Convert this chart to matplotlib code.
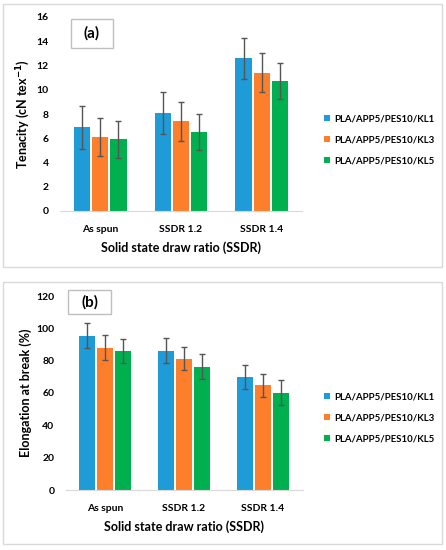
import matplotlib
matplotlib.use("Agg")
import matplotlib.pyplot as plt
from matplotlib.patches import Rectangle
import numpy as np

categories = ["As spun", "SSDR 1.2", "SSDR 1.4"]
series = ["PLA/APP5/PES10/KL1", "PLA/APP5/PES10/KL3", "PLA/APP5/PES10/KL5"]
colors = ["#1f9bd8", "#fd7f2c", "#00b04f"]

ten_kl1 = [6.9, 8.1, 12.6]
ten_kl3 = [6.1, 7.4, 11.4]
ten_kl5 = [5.9, 6.5, 10.7]
ten_err_kl1 = [1.75, 1.75, 1.7]
ten_err_kl3 = [1.6, 1.6, 1.6]
ten_err_kl5 = [1.5, 1.5, 1.5]

elo_kl1 = [95.3, 86.2, 69.8]
elo_kl3 = [88.1, 81.3, 64.8]
elo_kl5 = [86.0, 76.3, 60.1]
elo_err_kl1 = [7.7, 7.6, 7.3]
elo_err_kl3 = [7.5, 6.9, 7.1]
elo_err_kl5 = [7.6, 7.6, 7.7]

ten_ticks = [0, 2, 4, 6, 8, 10, 12, 14, 16]
elo_ticks = [0, 20, 40, 60, 80, 100, 120]

plt.rcParams['font.family'] = ['Lato', 'DejaVu Sans']
plt.rcParams['font.weight'] = 'bold'
plt.rcParams['mathtext.default'] = 'bf'

fig = plt.figure(figsize=(4.46, 5.5), dpi=100)
W, H = 446, 550

def fx(px):
    return px / W

def fy(py):
    return 1 - py / H

# frames
for (x0, y0, x1, y1) in [(3, 4, 442, 267), (3, 282, 442, 544)]:
    fig.patches.append(Rectangle((fx(x0), fy(y1)), fx(x1) - fx(x0), fy(y0) - fy(y1),
                                 transform=fig.transFigure, fill=False,
                                 edgecolor="#d9d9d9", linewidth=1.0))

def panel(rect, vals, errs, ticks, ylabel, tag, tagbox, leg_y):
    ax = fig.add_axes(rect)
    x = np.arange(len(categories))
    w = 0.2
    off = 0.225
    for i in range(3):
        ax.bar(x + (i - 1) * off, vals[i], width=w, color=colors[i],
               yerr=errs[i], capsize=2.5,
               error_kw=dict(ecolor="#555555", elinewidth=1.0, capthick=1.0),
               label=series[i], zorder=2)
    ax.set_xlim(-0.5, 2.5)
    ax.set_ylim(ticks[0], ticks[-1])
    ax.set_yticks(ticks)
    ax.set_yticklabels([str(t) for t in ticks], fontsize=7.5, fontweight='bold')
    ax.set_xticks(x)
    ax.set_xticklabels(categories, fontsize=7.5, fontweight='bold')
    ax.tick_params(axis='y', length=0, pad=8)
    ax.tick_params(axis='x', length=0, pad=10)
    for s in ["top", "right", "left"]:
        ax.spines[s].set_visible(False)
    ax.spines["bottom"].set_color("#d9d9d9")
    ax.set_ylabel(ylabel, fontsize=9, fontweight='bold', labelpad=3)
    ax.set_xlabel("Solid state draw ratio (SSDR)", fontsize=9, fontweight='bold', labelpad=5)
    # tag box
    bx0, by0, bx1, by1 = tagbox
    fig.patches.append(Rectangle((fx(bx0), fy(by1)), fx(bx1) - fx(bx0), fy(by0) - fy(by1),
                                 transform=fig.transFigure, fill=False,
                                 edgecolor="#bfbfbf", linewidth=1.0))
    fig.text(fx((bx0 + bx1) / 2), fy((by0 + by1) / 2), tag, ha='center', va='center',
             fontsize=11, fontweight='bold')
    handles, labels = ax.get_legend_handles_labels()
    leg = fig.legend(handles, labels, loc='upper left',
                     bbox_to_anchor=(fx(319), fy(leg_y)), frameon=False,
                     fontsize=6.9, handlelength=0.6, handleheight=0.6,
                     handletextpad=0.45, labelspacing=1.25, borderpad=0)
    for t in leg.get_texts():
        t.set_fontweight('bold')
    return ax

panel([fx(60), fy(211), fx(302) - fx(60), fy(17) - fy(211)],
      [ten_kl1, ten_kl3, ten_kl5], [ten_err_kl1, ten_err_kl3, ten_err_kl5],
      ten_ticks, "Tenacity (cN tex$^{-1}$)", "(a)", (71, 19, 113, 48), 110)

panel([fx(65.5), fy(490), fx(302.5) - fx(65.5), fy(296) - fy(490)],
      [elo_kl1, elo_kl3, elo_kl5], [elo_err_kl1, elo_err_kl3, elo_err_kl5],
      elo_ticks, "Elongation at break (%)", "(b)", (68, 290, 111, 314), 388)

fig.savefig("out.png", dpi=100)
